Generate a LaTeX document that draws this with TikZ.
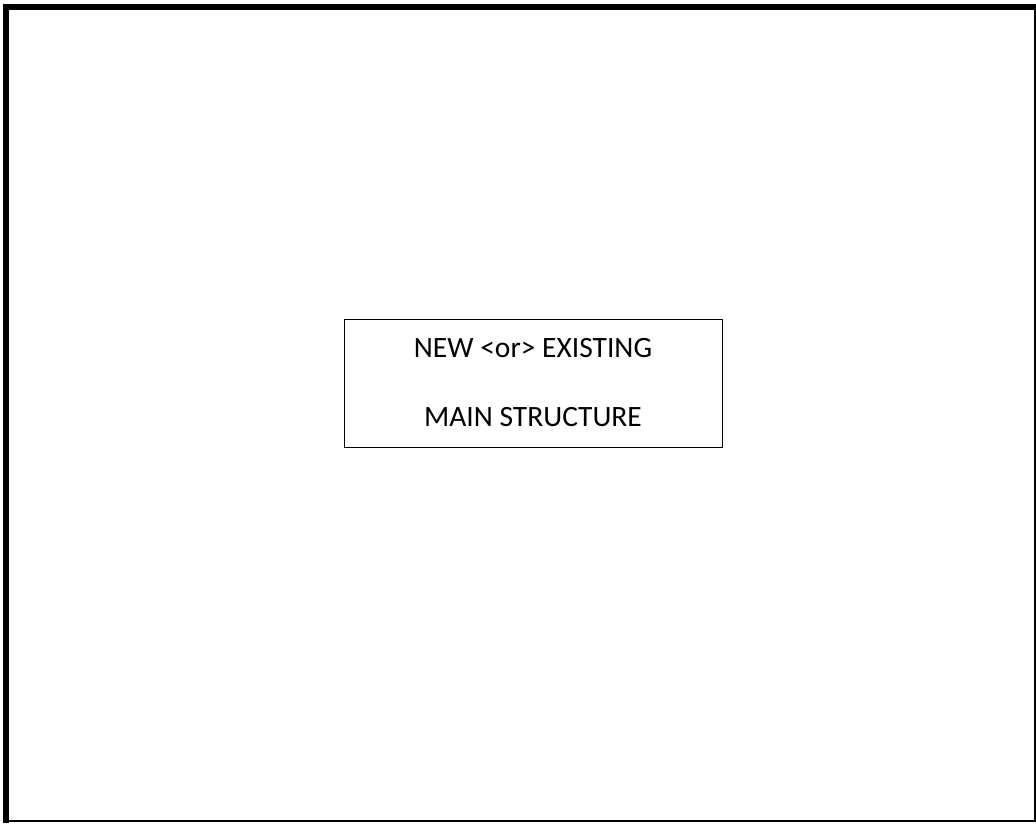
\documentclass[tikz,border=0pt]{standalone}
\usepackage{fontspec}
\setmainfont{Carlito}
\tikzset{
  frame thick/.style={line width=6pt},
  frame thin/.style={line width=1.6pt},
  mainbox/.style={draw, line width=1pt, minimum width=378pt, minimum height=128pt,
    align=center, font=\fontsize{29.5}{69}\selectfont, inner sep=0pt},
}

\begin{document}
\begin{tikzpicture}[x=1pt,y=-1pt]
    \useasboundingbox (0,0) rectangle (1036,823);
    % outer frame
    \draw[frame thick] (6,823) -- (6,7) -- (1036,7);
    \draw[frame thin] (6,821) -- (1035,821) -- (1035,7);

    % centre box
    \node[mainbox] (structure) at (533,383) {NEW <or> EXISTING\\MAIN STRUCTURE};
\end{tikzpicture}
\end{document}
